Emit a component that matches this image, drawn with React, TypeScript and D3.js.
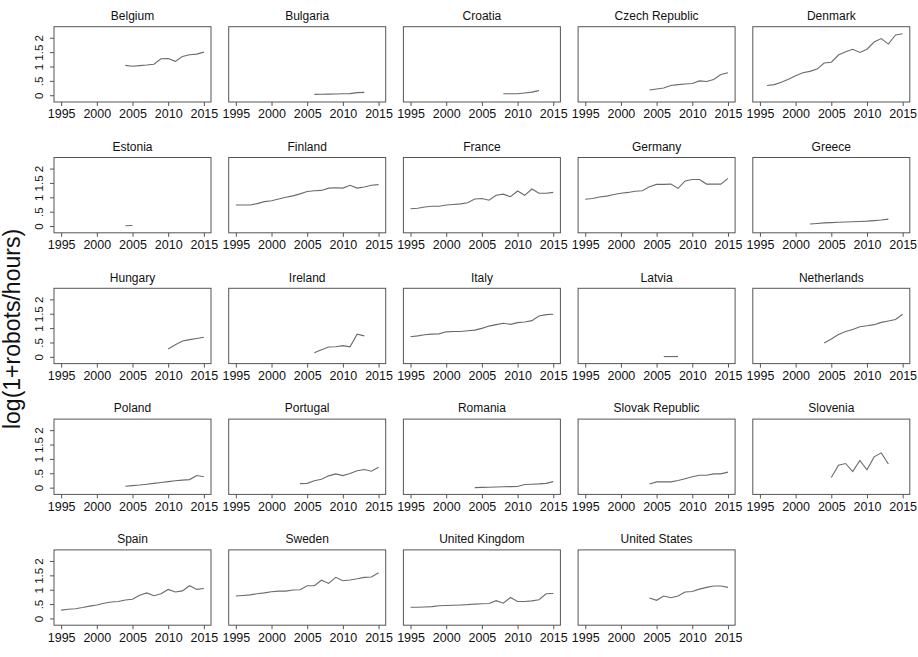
import { useEffect, useRef } from 'react';
import * as d3 from 'd3';

// panel order, left to right, top to bottom
const countries = [
  'Belgium', 'Bulgaria', 'Croatia', 'Czech Republic', 'Denmark',
  'Estonia', 'Finland', 'France', 'Germany', 'Greece',
  'Hungary', 'Ireland', 'Italy', 'Latvia', 'Netherlands',
  'Poland', 'Portugal', 'Romania', 'Slovak Republic', 'Slovenia',
  'Spain', 'Sweden', 'United Kingdom', 'United States',
];

// first year of each country's series
const startYears = [
  2004, 2006, 2008, 2004, 1996,
  2004, 1995, 1995, 1995, 2002,
  2010, 2006, 1995, 2006, 2004,
  2004, 2004, 2004, 2004, 2005,
  1995, 1995, 1995, 2004,
];

// log(1+robots/hours), one value per year from the start year
const belgium = [1.04, 1.01, 1.03, 1.05, 1.08, 1.27, 1.28, 1.18, 1.35, 1.41, 1.43, 1.5];
const bulgaria = [0.03, 0.035, 0.04, 0.045, 0.05, 0.055, 0.09, 0.1];
const croatia = [0.05, 0.05, 0.05, 0.08, 0.11, 0.16];
const czech = [0.18, 0.22, 0.25, 0.34, 0.37, 0.39, 0.41, 0.5, 0.48, 0.55, 0.72, 0.78];
const denmark = [0.34, 0.37, 0.45, 0.56, 0.68, 0.78, 0.83, 0.91, 1.12, 1.15, 1.4, 1.51, 1.6, 1.49, 1.6, 1.85, 1.97, 1.78, 2.1, 2.14];
const estonia = [0.01, 0.02];
const finland = [0.73, 0.73, 0.73, 0.78, 0.85, 0.88, 0.94, 1.0, 1.05, 1.12, 1.2, 1.23, 1.24, 1.32, 1.33, 1.32, 1.42, 1.32, 1.36, 1.42, 1.44];
const france = [0.6, 0.62, 0.66, 0.69, 0.69, 0.73, 0.75, 0.77, 0.81, 0.94, 0.96, 0.9, 1.07, 1.11, 1.02, 1.22, 1.07, 1.29, 1.14, 1.14, 1.17];
const germany = [0.93, 0.96, 1.01, 1.04, 1.1, 1.14, 1.17, 1.21, 1.23, 1.37, 1.45, 1.45, 1.46, 1.31, 1.57, 1.62, 1.62, 1.46, 1.46, 1.46, 1.66];
const greece = [0.07, 0.09, 0.11, 0.12, 0.13, 0.14, 0.15, 0.16, 0.17, 0.19, 0.21, 0.24];
const hungary = [0.27, 0.42, 0.55, 0.6, 0.64, 0.68];
const ireland = [0.14, 0.25, 0.34, 0.35, 0.39, 0.35, 0.79, 0.73];
const italy = [0.7, 0.73, 0.77, 0.79, 0.8, 0.87, 0.88, 0.88, 0.91, 0.93, 0.99, 1.07, 1.12, 1.17, 1.13, 1.19, 1.21, 1.26, 1.42, 1.47, 1.48];
const latvia = [0.01, 0.01, 0.01];
const netherlands = [0.48, 0.62, 0.78, 0.88, 0.95, 1.05, 1.08, 1.12, 1.2, 1.25, 1.3, 1.48];
const poland = [0.05, 0.07, 0.09, 0.12, 0.15, 0.18, 0.21, 0.24, 0.26, 0.28, 0.42, 0.38];
const portugal = [0.14, 0.15, 0.24, 0.29, 0.41, 0.48, 0.42, 0.49, 0.59, 0.63, 0.57, 0.71];
const romania = [0.0, 0.01, 0.015, 0.02, 0.03, 0.035, 0.04, 0.11, 0.12, 0.13, 0.15, 0.21];
const slovakia = [0.13, 0.2, 0.2, 0.2, 0.25, 0.31, 0.38, 0.43, 0.43, 0.48, 0.48, 0.54];
const slovenia = [0.35, 0.78, 0.84, 0.56, 0.95, 0.62, 1.07, 1.21, 0.82];
const spain = [0.29, 0.32, 0.34, 0.38, 0.43, 0.47, 0.53, 0.57, 0.59, 0.64, 0.67, 0.81, 0.89, 0.79, 0.86, 1.01, 0.92, 0.96, 1.14, 1.01, 1.04];
const sweden = [0.78, 0.8, 0.82, 0.86, 0.89, 0.93, 0.95, 0.95, 0.99, 1.0, 1.14, 1.14, 1.33, 1.22, 1.43, 1.31, 1.34, 1.38, 1.43, 1.44, 1.59];
const uk = [0.39, 0.39, 0.4, 0.41, 0.44, 0.45, 0.46, 0.47, 0.48, 0.5, 0.51, 0.52, 0.62, 0.53, 0.73, 0.59, 0.59, 0.61, 0.65, 0.86, 0.87];
const us = [0.71, 0.63, 0.78, 0.72, 0.78, 0.92, 0.94, 1.02, 1.08, 1.13, 1.13, 1.08];

const series = [
  belgium, bulgaria, croatia, czech, denmark,
  estonia, finland, france, germany, greece,
  hungary, ireland, italy, latvia, netherlands,
  poland, portugal, romania, slovakia, slovenia,
  spain, sweden, uk, us,
];

const xTicks = [1995, 2000, 2005, 2010, 2015];
const yTicks = [0, 0.5, 1, 1.5, 2];
const yTickLabels = ['0', '.5', '1', '1.5', '2'];
const yTitle = 'log(1+robots/hours)';

const FONT = '"Liberation Sans", Arial, sans-serif';

const App = () => {
  const ref = useRef<SVGSVGElement>(null);

  useEffect(() => {
    const width = 918;
    const height = 657;
    const nCols = 5;
    const colX0 = 54;
    const colStep = 174.7;
    const rowY0 = 26.7;
    const rowStep = 130.8;
    const boxW = 157;
    const boxH = 75.3;

    const svg = d3.select(ref.current);
    svg.selectAll('*').remove();
    svg.attr('width', width).attr('height', height);

    svg.append('rect').attr('width', width).attr('height', height).attr('fill', '#fff');

    const x = d3.scaleLinear().domain([1994, 2016]).range([0, boxW]);
    const y = d3.scaleLinear().domain([-0.235, 2.385]).range([boxH, 0]);

    const line = d3
      .line<[number, number]>()
      .x((d) => x(d[0]))
      .y((d) => y(d[1]));

    countries.forEach((name, i) => {
      const col = i % nCols;
      const row = Math.floor(i / nCols);
      const g = svg
        .append('g')
        .attr('transform', `translate(${colX0 + col * colStep},${rowY0 + row * rowStep})`);

      // title
      g.append('text')
        .attr('x', boxW / 2)
        .attr('y', -6.7)
        .attr('text-anchor', 'middle')
        .style('font-family', FONT)
        .style('font-size', '12px')
        .style('fill', '#111')
        .text(name);

      // x axis
      const xAxis = g
        .append('g')
        .attr('transform', `translate(0,${boxH})`)
        .call(
          d3
            .axisBottom(x)
            .tickValues(xTicks)
            .tickFormat(d3.format('d'))
            .tickSize(4)
            .tickPadding(3.5)
        );
      xAxis.select('.domain').remove();
      xAxis.selectAll('line').attr('stroke', '#555');
      xAxis
        .selectAll('text')
        .style('font-family', FONT)
        .style('font-size', '12.5px')
        .style('fill', '#111');

      // y axis only on first column
      if (col === 0) {
        const yAxis = g.append('g').call(
          d3
            .axisLeft(y)
            .tickValues(yTicks)
            .tickFormat((_, k) => yTickLabels[k])
            .tickSize(4)
        );
        yAxis.select('.domain').remove();
        yAxis.selectAll('line').attr('stroke', '#555');
        yAxis
          .selectAll('text')
          .attr('x', null)
          .attr('dy', null)
          .attr('text-anchor', 'middle')
          .attr('transform', 'translate(-10.7,0) rotate(-90)')
          .style('font-family', FONT)
          .style('font-size', '11.5px')
          .style('fill', '#111');
      }

      // frame
      g.append('rect')
        .attr('width', boxW)
        .attr('height', boxH)
        .attr('fill', 'none')
        .attr('stroke', '#555')
        .attr('stroke-width', 1);

      // series
      const pts: [number, number][] = series[i].map((v, k) => [startYears[i] + k, v]);
      g.append('path')
        .datum(pts)
        .attr('d', line)
        .attr('fill', 'none')
        .attr('stroke', '#6b6b6b')
        .attr('stroke-width', 1.1);
    });

    // shared y title
    svg
      .append('text')
      .attr('transform', 'translate(20,329) rotate(-90)')
      .attr('text-anchor', 'middle')
      .style('font-family', FONT)
      .style('font-size', '23px')
      .style('fill', '#111')
      .text(yTitle);
  }, []);

  return (
    <div style={{ position: 'absolute', left: 0, top: 0 }}>
      <svg ref={ref} style={{ display: 'block' }} />
    </div>
  );
};

export default App;
